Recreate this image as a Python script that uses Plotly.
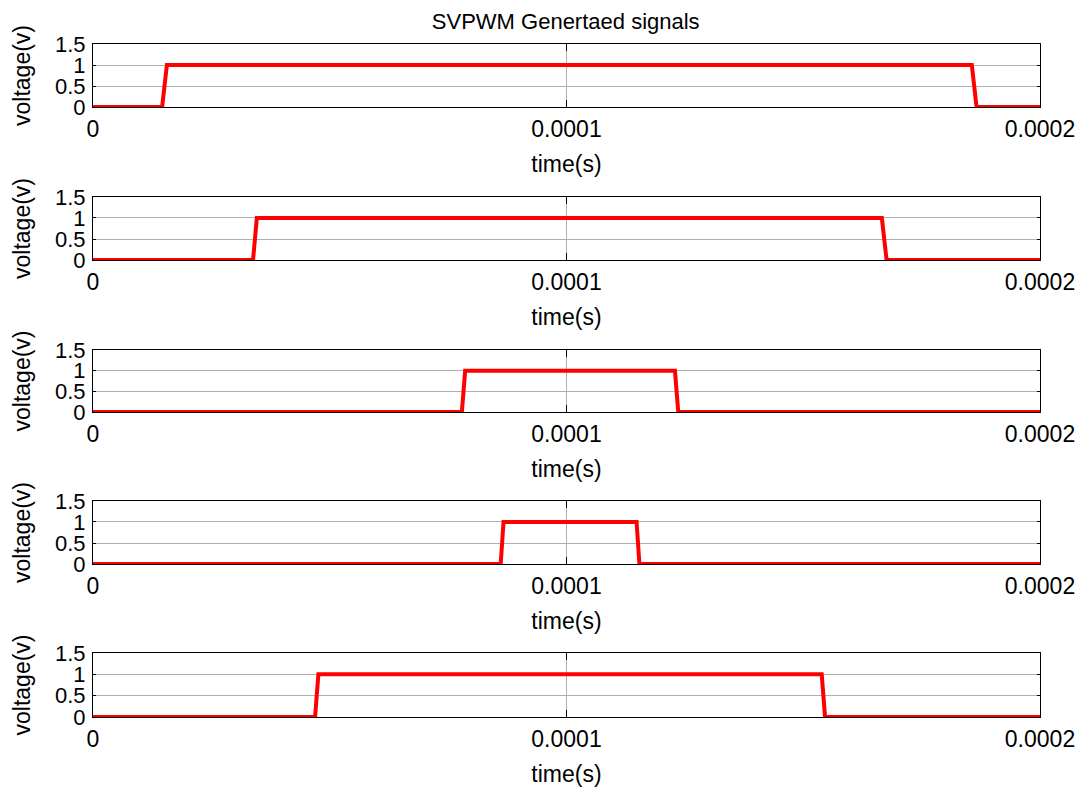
import plotly.graph_objects as go

# Switching instants (s) of the five SVPWM gate signals
time_a = [0, 1.46e-5, 1.56e-5, 1.856e-4, 1.866e-4, 2e-4]
time_b = [0, 3.38e-5, 3.46e-5, 1.666e-4, 1.676e-4, 2e-4]
time_c = [0, 7.79e-5, 7.86e-5, 1.229e-4, 1.236e-4, 2e-4]
time_d = [0, 8.61e-5, 8.67e-5, 1.148e-4, 1.154e-4, 2e-4]
time_e = [0, 4.69e-5, 4.76e-5, 1.539e-4, 1.546e-4, 2e-4]
pulse_v = [0, 0, 1, 1, 0, 0]

signals = [time_a, time_b, time_c, time_d, time_e]

x_ticks = [0, 0.0001, 0.0002]
x_tick_text = ["0", "0.0001", "0.0002"]
y_ticks = [0, 0.5, 1, 1.5]
y_tick_text = ["0", "0.5", "1", "1.5"]

# vertical placement of the five stacked panels (paper fractions)
domains = [
    [0.9064, 1.0],
    [0.6790, 0.7727],
    [0.4532, 0.5453],
    [0.2273, 0.3210],
    [0.0, 0.0951],
]

FONT = "Liberation Sans, Arial, sans-serif"
fig = go.Figure()
layout = dict(
    width=1085,
    height=788,
    margin=dict(l=93, r=45, t=44, b=71),
    paper_bgcolor="white",
    plot_bgcolor="white",
    showlegend=False,
    font=dict(family=FONT, size=23, color="black"),
    title=dict(text="SVPWM Genertaed signals", x=0.5214, xanchor="center",
               y=0.973, yanchor="middle", font=dict(size=22)),
)

for i, t in enumerate(signals):
    n = "" if i == 0 else str(i + 1)
    fig.add_trace(go.Scatter(
        x=t, y=pulse_v, mode="lines",
        line=dict(color="#ff0000", width=4),
        xaxis="x" + n, yaxis="y" + n,
    ))
    layout["xaxis" + n] = dict(
        domain=[0, 1], anchor="y" + n, range=[0, 0.0002],
        tickvals=x_ticks, ticktext=x_tick_text,
        ticks="inside", ticklen=7, tickcolor="black",
        showline=True, linecolor="black", linewidth=1, mirror="allticks",
        showgrid=True, gridcolor="#b0b0b0", gridwidth=1,
        zeroline=False, ticklabelstandoff=1, automargin=False,
        title=dict(text="time(s)", standoff=15, font=dict(size=23)),
        tickfont=dict(size=23),
    )
    layout["yaxis" + n] = dict(
        domain=domains[i], anchor="x" + n, range=[0, 1.5],
        tickvals=y_ticks, ticktext=y_tick_text,
        ticks="inside", ticklen=3, tickcolor="black",
        showline=True, linecolor="black", linewidth=1, mirror="allticks",
        showgrid=True, gridcolor="#b0b0b0", gridwidth=1,
        zeroline=False, ticklabelstandoff=2, automargin=False,
        title=dict(text="voltage(v)", standoff=17, font=dict(size=23)),
        tickfont=dict(size=22),
    )

fig.update_layout(**layout)
fig.write_html("out.html")
